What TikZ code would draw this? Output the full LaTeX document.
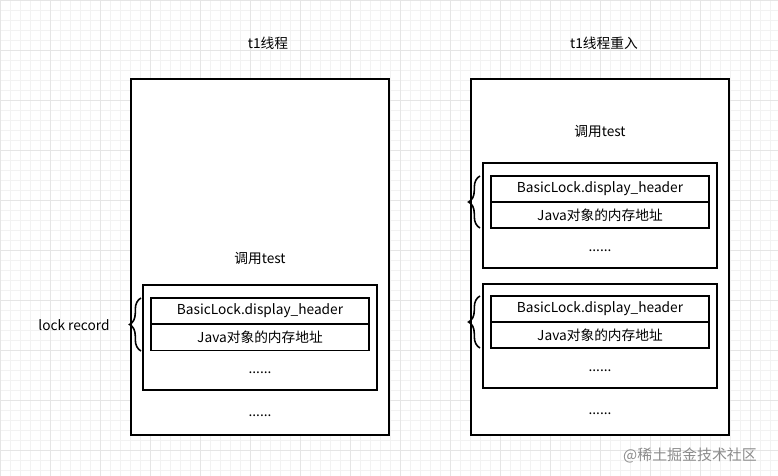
\documentclass[tikz,border=0pt]{standalone}
\usepackage{fontspec}
\setmainfont{Noto Sans CJK SC}
\usetikzlibrary{decorations.pathreplacing}
\begin{document}
\begin{tikzpicture}[x=0.02cm,y=-0.02cm,font=\fontsize{7.8}{9}\selectfont,
  box/.style={draw=black,line width=0.6pt,fill=white},
  row/.style={draw=black,line width=0.6pt,fill=white,minimum width=218*0.02cm,minimum height=26*0.02cm,inner sep=0pt},
  lbl/.style={inner sep=0pt},
  brc/.style={decorate,decoration={brace,amplitude=6.5pt},line width=0.9pt}]
\fill[white] (0,0) rectangle (778,476);
\useasboundingbox (0,0) rectangle (778,476);
\foreach \x in {0,10,...,770} \draw[black!5,line width=0.3pt] (\x,0) -- (\x,476);
\foreach \y in {0,10,...,470} \draw[black!5,line width=0.3pt] (0,\y) -- (778,\y);
\foreach \x in {0,50,...,750} \draw[black!10,line width=0.4pt] (\x,0) -- (\x,476);
\foreach \y in {0,50,...,450} \draw[black!10,line width=0.4pt] (0,\y) -- (778,\y);
% left
\node[lbl] (tl) at (268,43) {t1线程};
\draw[box] (131,79) rectangle (389,435);
\node[lbl] (cl) at (260,258) {调用test};
\draw[box] (143,285) rectangle (377,390);
\node[row] (l1) at (260,311) {BasicLock.display\_header};
\node[row] (l2) at (260,337.5) {Java对象的内存地址};
\node[lbl] (ld1) at (260,373) {......};
\node[lbl] (ld2) at (260,416) {......};
\coordinate (lb1) at (141,351); \coordinate (lb2) at (141,298);
\draw[brc] (lb1) -- (lb2);
\node[lbl] (lr) at (74,325) {lock record};
% right
\node[lbl] (tr) at (604,43) {t1线程重入};
\draw[box] (471,79) rectangle (729,435);
\node[lbl] (cr) at (600,131) {调用test};
\draw[box] (483,163) rectangle (717,268);
\node[row] (r1) at (600,189) {BasicLock.display\_header};
\node[row] (r2) at (600,215) {Java对象的内存地址};
\node[lbl] (rd1) at (600,251) {......};
\coordinate (rb1) at (480,228); \coordinate (rb2) at (480,176);
\draw[brc] (rb1) -- (rb2);
\draw[box] (483,284) rectangle (717,388);
\node[row] (r3) at (600,309) {BasicLock.display\_header};
\node[row] (r4) at (600,335) {Java对象的内存地址};
\node[lbl] (rd2) at (600,371) {......};
\coordinate (rb3) at (480,348); \coordinate (rb4) at (480,296);
\draw[brc] (rb3) -- (rb4);
\node[lbl] (rd3) at (600,414) {......};
\node[lbl,text=black!45,font=\fontsize{8.5}{9}\selectfont] (wm) at (690,455) {@稀土掘金技术社区};
\end{tikzpicture}
\end{document}
